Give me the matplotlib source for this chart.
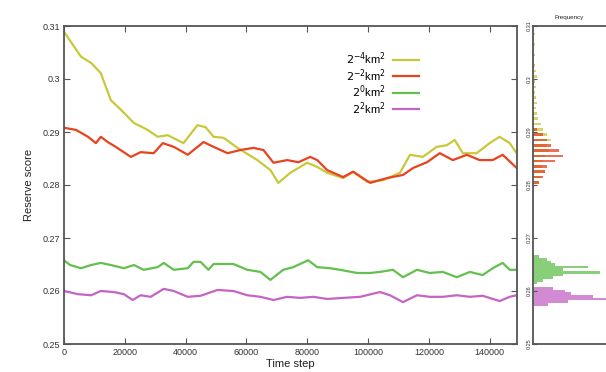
import numpy as np
import matplotlib
matplotlib.use("Agg")
import matplotlib.pyplot as plt
from matplotlib.ticker import FormatStrFormatter

plt.rcParams['font.family'] = ['Liberation Sans', 'DejaVu Sans']

# time series (time step, reserve score)
t_yellow = [0, 2500, 5600, 9000, 12100, 15400, 18700, 23000, 27500, 30800, 34100, 39300,
            43900, 46600, 49200, 52500, 57100, 63600, 67900, 70500, 74400, 80000, 83300,
            86600, 91800, 95100, 99700, 104900, 110500, 113800, 118000, 122600, 125900,
            128500, 131200, 135700, 140000, 143300, 146600, 148900]
y_yellow = [0.3089, 0.3068, 0.3042, 0.3030, 0.3011, 0.2960, 0.2942, 0.2917, 0.2904, 0.2891,
            0.2894, 0.2879, 0.2913, 0.2909, 0.2891, 0.2889, 0.2870, 0.2847, 0.2828, 0.2804,
            0.2823, 0.2842, 0.2834, 0.2823, 0.2813, 0.2825, 0.2806, 0.2809, 0.2823, 0.2857,
            0.2853, 0.2872, 0.2875, 0.2885, 0.2860, 0.2860, 0.2879, 0.2891, 0.2879, 0.2860]

t_red = [0, 3900, 7900, 10500, 12100, 14400, 17000, 22000, 25200, 29500, 32500, 36100,
         40700, 45900, 49200, 53800, 58000, 62300, 65600, 68900, 73400, 77100, 81000,
         83300, 86600, 91800, 95100, 100700, 106200, 111500, 114800, 119400, 123600,
         127900, 132500, 136700, 141000, 144300, 148900]
y_red = [0.2908, 0.2904, 0.2891, 0.2879, 0.2891, 0.2881, 0.2872, 0.2853, 0.2862, 0.2860,
         0.2879, 0.2872, 0.2857, 0.2881, 0.2872, 0.2860, 0.2866, 0.2870, 0.2866, 0.2842,
         0.2847, 0.2843, 0.2853, 0.2847, 0.2828, 0.2815, 0.2825, 0.2804, 0.2813, 0.2819,
         0.2832, 0.2843, 0.2860, 0.2847, 0.2857, 0.2847, 0.2847, 0.2857, 0.2832]

t_green = [0, 2000, 5600, 8900, 12100, 15400, 19700, 23000, 26200, 30800, 32800, 36100,
           40700, 42600, 44900, 47500, 49200, 55700, 60300, 64600, 67900, 72100, 75400,
           80300, 83300, 87500, 90800, 96400, 100700, 103900, 108200, 111500, 116100,
           120300, 124600, 129200, 133500, 137700, 141000, 144300, 146600, 148900]
y_green = [0.2658, 0.2649, 0.2643, 0.2649, 0.2653, 0.2649, 0.2643, 0.2649, 0.2640, 0.2645,
           0.2653, 0.2640, 0.2643, 0.2655, 0.2655, 0.2640, 0.2651, 0.2651, 0.2640, 0.2636,
           0.2621, 0.2640, 0.2645, 0.2658, 0.2645, 0.2643, 0.2640, 0.2634, 0.2634, 0.2636,
           0.2640, 0.2626, 0.2640, 0.2634, 0.2636, 0.2626, 0.2636, 0.2630, 0.2643, 0.2653,
           0.2640, 0.2640]

t_purple = [0, 4600, 8900, 12100, 16400, 19700, 22600, 25200, 28500, 32800, 36100, 40700,
            44900, 50500, 55700, 60300, 64600, 68900, 73400, 77700, 82000, 86600, 91800,
            97400, 103900, 107200, 111500, 116100, 120300, 124600, 129200, 133500, 137700,
            143300, 146600, 148900]
y_purple = [0.2600, 0.2594, 0.2592, 0.2600, 0.2598, 0.2594, 0.2583, 0.2592, 0.2589, 0.2604,
            0.2600, 0.2589, 0.2591, 0.2602, 0.2600, 0.2592, 0.2589, 0.2583, 0.2589, 0.2587,
            0.2589, 0.2585, 0.2587, 0.2589, 0.2598, 0.2592, 0.2579, 0.2592, 0.2589, 0.2589,
            0.2592, 0.2589, 0.2591, 0.2581, 0.2589, 0.2592]

labels = ['$2^{-4}$km$^2$', '$2^{-2}$km$^2$', '$2^{0}$km$^2$', '$2^{2}$km$^2$']
colors = ['#c8c83c', '#e8421e', '#62c04e', '#c464c4']

# frequency histograms (bin centre, count)
hb_yellow = [0.3085, 0.3075, 0.3065, 0.3055, 0.3045, 0.3035, 0.3025, 0.3015, 0.3005, 0.2995,
             0.2985, 0.2975, 0.2965, 0.2955, 0.2945, 0.2935, 0.2925, 0.2915, 0.2905, 0.2895,
             0.2885, 0.2875, 0.2865, 0.2855, 0.2845, 0.2835, 0.2825, 0.2815, 0.2805]
hc_yellow = [2, 1, 2, 1, 2, 1, 2, 3, 4, 2, 3, 2, 3, 4, 3, 4, 5, 8, 10, 14,
             18, 14, 16, 12, 10, 9, 12, 8, 6]
hb_red = [0.2905, 0.2895, 0.2885, 0.2875, 0.2865, 0.2855, 0.2845, 0.2835, 0.2825, 0.2815, 0.2805]
hc_red = [4, 10, 14, 18, 26, 30, 22, 14, 12, 10, 6]
hb_green = [0.2665, 0.2660, 0.2655, 0.2650, 0.2645, 0.2640, 0.2635, 0.2630, 0.2625, 0.2620, 0.2615]
hc_green = [6, 14, 18, 22, 55, 30, 67, 30, 20, 10, 4]
hb_purple = [0.2605, 0.2600, 0.2595, 0.2590, 0.2585, 0.2580, 0.2575]
hc_purple = [20, 32, 38, 60, 90, 35, 15]

xticks = [0, 20000, 40000, 60000, 80000, 100000, 120000, 140000]
yticks = [0.25, 0.26, 0.27, 0.28, 0.29, 0.3, 0.31]

W, H = 606, 372
fig = plt.figure(figsize=(W / 100, H / 100), dpi=100)
ax = fig.add_axes([64 / W, 1 - 344 / H, (517 - 64) / W, (344 - 26) / H])
axh = fig.add_axes([533 / W, 1 - 344 / H, (W - 533) / W, (344 - 26) / H])

series = [(t_yellow, y_yellow), (t_red, y_red), (t_green, y_green), (t_purple, y_purple)]
for (t, y), c, lab in zip(series, colors, labels):
    ax.plot(t, y, color=c, lw=1.6, label=lab)

ax.set_xlim(0, 149000)
ax.set_ylim(0.25, 0.31)
ax.set_xticks(xticks)
ax.set_yticks(yticks)
ax.yaxis.set_major_formatter(FormatStrFormatter('%g'))
ax.tick_params(direction='in', top=True, right=True, labelsize=6.5, length=4,
               color='#555555', labelcolor='#333333', pad=3)
for s in ax.spines.values():
    s.set_color('#555555')
    s.set_linewidth(1.3)
ax.set_xlabel('Time step', fontsize=8, labelpad=1, color='#222222')
ax.set_ylabel('Reserve score', fontsize=8, labelpad=6, color='#222222')
ax.legend(loc='upper left', bbox_to_anchor=(0.6, 0.955), frameon=False, markerfirst=False,
          fontsize=8, handlelength=2.4, labelspacing=0.0, handletextpad=0.6)

hists = [(hb_yellow, hc_yellow), (hb_red, hc_red), (hb_green, hc_green), (hb_purple, hc_purple)]
for (b, c), col in zip(hists, colors):
    axh.barh(b, c, height=0.0005, color=col, alpha=0.75, linewidth=0)
axh.set_ylim(0.25, 0.31)
axh.set_xlim(0, 73)
axh.set_yticks(yticks)
axh.set_xticks([])
axh.yaxis.set_major_formatter(FormatStrFormatter('%g'))
axh.tick_params(axis='y', direction='in', labelsize=4, length=3, color='#555555',
                labelcolor='#333333', pad=1)
for lab in axh.get_yticklabels():
    lab.set_rotation(90)
    lab.set_va('center')
axh.spines['right'].set_visible(False)
for s in ['left', 'top', 'bottom']:
    axh.spines[s].set_color('#555555')
    axh.spines[s].set_linewidth(1.3)
axh.set_title('Frequency', fontsize=4.5, pad=5, loc='left', x=0.3, color='#222222')

fig.savefig('out.png', dpi=100)
